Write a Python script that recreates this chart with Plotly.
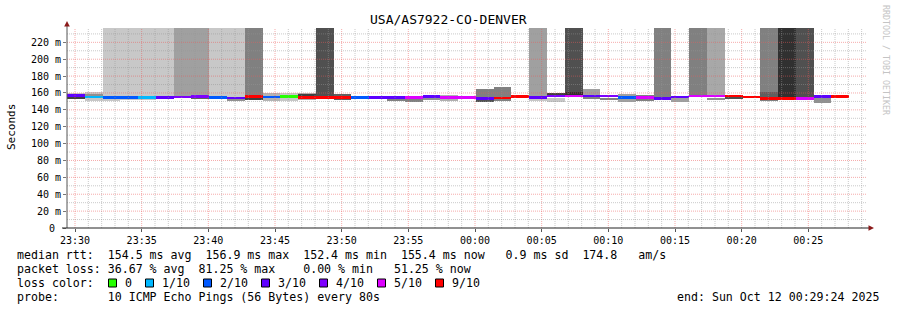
import plotly.graph_objects as go
from datetime import datetime, timedelta

# ---------------- data ----------------
TITLE = "USA/AS7922-CO-DENVER"
START = datetime(2025, 10, 11, 23, 29, 24)
END = datetime(2025, 10, 12, 0, 29, 24)
STEP_S = 80
UPPER_RTT = 400.0  # off-scale smoke (ms)

LOSS_LABELS = ["0", "1/10", "2/10", "3/10", "4/10", "5/10", "9/10"]
LOSS_COLORS = ["#26ff00", "#00b8ff", "#0059ff", "#5e00ff", "#7e00ff", "#dd00ff", "#ff0000"]

# median rtt per 80 s step (ms)
median_ms = [156.9, 155.3, 154.4, 154.4, 154.4, 154.4, 155.3, 155.8, 155.0, 154.1,
             155.5, 155.2, 155.8, 154.7, 154.7, 154.7, 154.7, 154.7, 154.7, 154.7,
             155.7, 154.7, 154.7, 153.4, 154.1, 156.1, 154.7, 156.5, 156.3, 156.5,
             156.3, 154.7, 154.7, 153.8, 155.1, 156.3, 156.3, 156.3, 155.1, 153.8,
             153.8, 153.8, 155.5, 155.5, None]
loss_idx = [3, 1, 2, 2, 1, 3, 4, 4, 2, 3,
            6, 2, 0, 6, 6, 6, 2, 3, 3, 5,
            3, 5, 5, 3, 6, 6, 3, 4, 5, 3,
            4, 2, 5, 3, 3, 5, 5, 6, 6, 6,
            6, 5, 3, 6, None]
# outer smoke band
smoke_lo = [153.3, 150.6, 150.6, 151.4, 151.4, None, None, None, None, 150.6,
            None, 150.6, 151.0, 151.4, None, 152.2, None, None, 150.6, 149.4,
            151.4, 150.6, None, 149.9, 150.2, None, 150.6, 149.9, None, 153.0,
            152.6, 149.9, 150.6, None, 149.9, None, 152.0, 152.6, None, 151.4,
            None, None, 148.2, None, None]
smoke_hi = [160.5, 161.0, 161.0, 160.0, 160.0, None, None, None, None, 152.6,
            None, 160.5, 160.0, 160.1, None, 158.5, None, None, 153.0, 153.0,
            157.7, 157.7, None, 164.4, 166.8, None, 153.0, 154.6, None, 164.4,
            154.6, 158.5, 157.7, None, 153.7, None, 154.0, 156.9, None, 153.0,
            None, None, 153.7, None, None]
smoke_gray = ["#c8c8c8", "#c8c8c8", "#c8c8c8", "#c8c8c8", "#c8c8c8", None, None, None, None, "#909090",
              None, "#b4b4b4", "#c8c8c8", "#b0b0b0", None, "#606060", None, None, "#808080", "#808080",
              "#909090", "#b0b0b0", None, "#808080", "#808080", None, "#c8c8c8", "#c8c8c8", None, "#a0a0a0",
              "#808080", "#a0a0a0", "#808080", None, "#a0a0a0", None, "#909090", "#505050", None, "#808080",
              None, None, "#909090", None, None]
# dense inner smoke band
core_lo = [153.3, 156.5, None, None, None, None, None, 153.3, None, None,
           151.4, None, None, 156.5, None, None, None, None, None, None,
           None, None, None, 149.9, None, None, None, 158.5, 157.3, 153.0,
           None, None, None, None, None, None, None, None, None, 154.6,
           None, None, None, None, None]
core_hi = [155.3, 158.0, None, None, None, None, None, 154.6, None, None,
           154.0, None, None, 158.5, None, None, None, None, None, None,
           None, None, None, 152.2, None, None, None, 160.0, 161.3, 154.6,
           None, None, None, None, None, None, None, None, None, 161.3,
           None, None, None, None, None]
core_gray = ["#404040", "#909090", None, None, None, None, None, "#606060", None, None,
             "#404040", None, None, "#404040", None, None, None, None, None, None,
             None, None, None, "#505050", None, None, None, "#404040", "#303030", "#808080",
             None, None, None, None, None, None, None, None, None, "#606060",
             None, None, None, None, None]
# smoke running off the top of the scale
upper_gray = [None, None, "#c8c8c8", "#c8c8c8", "#c8c8c8", "#c8c8c8", "#a0a0a0", "#a0a0a0", "#c8c8c8", "#c8c8c8",
              "#808080", None, None, None, "#505050", None, None, None, None, None,
              None, None, None, None, None, None, "#a0a0a0", None, "#505050", None,
              None, None, None, "#808080", None, "#808080", "#a8a8a8", None, None, "#808080",
              "#303030", "#505050", None, None, None]

Y_TICKS = [0, 20, 40, 60, 80, 100, 120, 140, 160, 180, 200, 220]
Y_MAX = 237.0

STATS_MEDIAN = ["154.5", "156.9", "152.4", "155.4", "0.9", "174.8"]
STATS_LOSS = ["36.67", "81.25", "0.00", "51.25"]
PROBE = "10 ICMP Echo Pings (56 Bytes) every 80s"
END_TEXT = "end: Sun Oct 12 00:29:24 2025"

# ---------------- build ----------------
STEP_MS = STEP_S * 1000
centers = [START + timedelta(seconds=STEP_S * (i + 0.5)) for i in range(len(median_ms))]
MEDIAN_W = 3.2  # line thickness in ms units


def band(lo, hi, colors):
    xs, ys, bs, cs = [], [], [], []
    for i, (l, h, c) in enumerate(zip(lo, hi, colors)):
        if l is None or h is None or c is None:
            continue
        xs.append(centers[i]); bs.append(l); ys.append(h - l); cs.append(c)
    return go.Bar(x=xs, y=ys, base=bs, width=[STEP_MS] * len(xs),
                  marker=dict(color=cs, line=dict(width=0)),
                  hoverinfo="skip", showlegend=False)


fig = go.Figure()
fig.add_trace(band(median_ms, [UPPER_RTT if c else None for c in upper_gray], upper_gray))
fig.add_trace(band(smoke_lo, smoke_hi, smoke_gray))
fig.add_trace(band(core_lo, core_hi, core_gray))
fig.add_trace(band([m - MEDIAN_W / 2 if m is not None else None for m in median_ms],
                   [m + MEDIAN_W / 2 if m is not None else None for m in median_ms],
                   [LOSS_COLORS[k] if k is not None else None for k in loss_idx]))

L, R, T, B = 67, 30, 28, 82
W, H = 897, 310
PW, PH = W - L - R, H - T - B


def px(x):
    return (x - L) / PW


def py(y):
    return (H - B - y) / PH


shapes = []
GRID = "rgba(150,150,150,0.5)"
MGRID = "rgba(235,90,90,0.5)"
# vertical grid: every minute, major every 5 min
t = datetime(2025, 10, 11, 23, 30, 0)
while t < END:
    major = t.minute % 5 == 0
    shapes.append(dict(type="line", xref="x", yref="paper", x0=t, x1=t, y0=0, y1=1,
                       line=dict(color=MGRID if major else GRID, width=1, dash="1px,1px"), layer="above"))
    t += timedelta(minutes=1)
# horizontal grid: every 10 ms, major every 20
for v in range(10, int(Y_MAX) + 1, 10):
    major = v % 20 == 0
    shapes.append(dict(type="line", xref="paper", yref="y", x0=0, x1=1, y0=v, y1=v,
                       line=dict(color=MGRID if major else GRID, width=1, dash="1px,1px"), layer="above"))
# axes
shapes.append(dict(type="line", xref="paper", yref="paper", x0=0, x1=0, y0=0, y1=py(24),
                   line=dict(color="#555555", width=1), layer="above"))
shapes.append(dict(type="line", xref="paper", yref="paper", x0=px(62), x1=px(869), y0=0, y1=0,
                   line=dict(color="#222222", width=1), layer="above"))
ARROW = "#8b1a1a"
shapes.append(dict(type="path", xref="paper", yref="paper",
                   path=f"M {px(67)},{py(21)} L {px(64.2)},{py(26.5)} L {px(69.8)},{py(26.5)} Z",
                   fillcolor=ARROW, line=dict(width=0), layer="above"))
shapes.append(dict(type="path", xref="paper", yref="paper",
                   path=f"M {px(874)},{py(228)} L {px(868.5)},{py(225.2)} L {px(868.5)},{py(230.8)} Z",
                   fillcolor=ARROW, line=dict(width=0), layer="above"))

MONO = "DejaVu Sans Mono"
FS = 11.6
annotations = []


def text(x, y, s, size=FS, color="#000000", xanchor="left", angle=0, font=MONO):
    annotations.append(dict(xref="paper", yref="paper", x=px(x), y=py(y), text=s.replace(" ", "\u00a0"),
                            showarrow=False, xanchor=xanchor, yanchor="middle", textangle=angle,
                            font=dict(family=font, size=size, color=color)))


text(448.5, 20, TITLE, size=13, xanchor="center")
text(11, 127, "Seconds", size=11, xanchor="center", angle=-90)
text(886, 60, "RRDTOOL / TOBI OETIKER", size=8.3, color="#c4c4c4", xanchor="center", angle=90)

line1 = (f"median rtt:  {STATS_MEDIAN[0]} ms avg  {STATS_MEDIAN[1]} ms max  {STATS_MEDIAN[2]} ms min  "
         f"{STATS_MEDIAN[3]} ms now   {STATS_MEDIAN[4]} ms sd  {STATS_MEDIAN[5]}   am/s")
line2 = (f"packet loss: {STATS_LOSS[0]} % avg  {STATS_LOSS[1]} % max    {STATS_LOSS[2]} % min   "
         f"{STATS_LOSS[3]} % now")
text(15, 254.5, line1)
text(15, 268.5, line2)
text(15, 282.5, "loss color:")
text(15, 296.5, "probe:       " + PROBE)
text(881, 296.5, END_TEXT, xanchor="right")

# loss colour legend
sx = 108.5
for lab, col in zip(LOSS_LABELS, LOSS_COLORS):
    shapes.append(dict(type="rect", xref="paper", yref="paper", x0=px(sx), x1=px(sx + 8),
                       y0=py(287), y1=py(279), fillcolor=col, line=dict(color="#000000", width=1)))
    text(sx + 14.5, 282.5, lab)
    sx += 14.5 + 7 * len(lab) + 15.5

fig.update_layout(
    width=W, height=H,
    margin=dict(l=L, r=R, t=T, b=B, pad=0),
    paper_bgcolor="white", plot_bgcolor="white",
    barmode="overlay", bargap=0,
    showlegend=False,
    shapes=shapes, annotations=annotations,
    xaxis=dict(type="date", range=[START, END], showgrid=False, zeroline=False, showline=False,
               tickvals=[datetime(2025, 10, 11, 23, 30) + timedelta(minutes=5 * k) for k in range(12)],
               tickformat="%H:%M", ticks="outside", ticklen=3, tickcolor="#555555",
               tickfont=dict(family=MONO, size=10, color="#000000"), fixedrange=True),
    yaxis=dict(range=[0, Y_MAX], showgrid=False, zeroline=False, showline=False,
               tickvals=Y_TICKS, ticktext=["0\u00a0"] + [f"{v} m" for v in Y_TICKS[1:]],
               ticks="outside", ticklen=3, tickcolor="#777777",
               tickfont=dict(family=MONO, size=10, color="#000000"), fixedrange=True),
)

fig.write_html("out.html")
